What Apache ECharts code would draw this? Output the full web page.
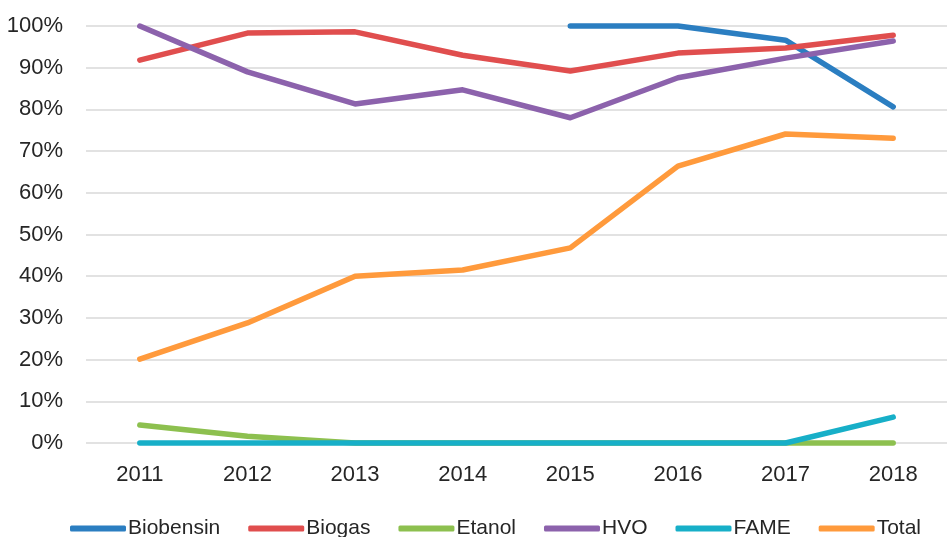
<!DOCTYPE html>
<html>
<head>
<meta charset="utf-8">
<script src="https://cdn.jsdelivr.net/npm/echarts@6/dist/echarts.min.js"></script>
<style>
  html, body { margin: 0; padding: 0; background: #fff; }
  #chart { width: 947px; height: 537px; }
</style>
</head>
<body>
<div id="chart"></div>
<script>
// kategorier og verdier (andel, %)
var years = ['2011', '2012', '2013', '2014', '2015', '2016', '2017', '2018']
var biobensin = [null, null, null, null, 100, 100, 96.6, 80.6]
var biogas = [91.8, 98.3, 98.6, 93.0, 89.2, 93.5, 94.7, 97.8]
var etanol = [4.3, 1.6, 0, 0, 0, 0, 0, 0]
var hvo = [100, 89.0, 81.3, 84.7, 78.0, 87.6, 92.3, 96.4]
var fame = [0, 0, 0, 0, 0, 0, 0, 6.2]
var total = [20.1, 28.8, 40.0, 41.5, 46.8, 66.4, 74.1, 73.1]

var navn = ['Biobensin', 'Biogas', 'Etanol', 'HVO', 'FAME', 'Total']
var farger = ['#2B7EC1', '#E04E4E', '#8DC04F', '#8C62AC', '#17AFC8', '#FF9A3C']
var dataSett = [biobensin, biogas, etanol, hvo, fame, total]

var fonter = '"Liberation Sans", Arial, sans-serif'

var chartDom = document.getElementById('chart')
var myChart = echarts.init(chartDom)

var option = {
  animation: false,
  color: farger,
  grid: {
    left: 86,
    top: 26,
    width: 874,
    height: 417
  },
  legend: {
    data: navn,
    left: 70,
    top: 518,
    padding: 0,
    itemWidth: 56,
    itemHeight: 6,
    itemGap: 28,
    icon: 'roundRect',
    textStyle: {
      fontFamily: fonter,
      fontSize: 21,
      color: '#262626',
      padding: [0, 0, 0, -3]
    }
  },
  xAxis: {
    type: 'category',
    data: years,
    boundaryGap: true,
    axisLine: { show: false },
    axisTick: { show: false },
    axisLabel: {
      margin: 21,
      fontFamily: fonter,
      fontSize: 22,
      color: '#262626'
    }
  },
  yAxis: {
    type: 'value',
    min: 0,
    max: 100,
    interval: 10,
    axisLine: { show: false },
    axisTick: { show: false },
    axisLabel: {
      margin: 23,
      fontFamily: fonter,
      fontSize: 22,
      color: '#262626',
      formatter: '{value}%'
    },
    splitLine: {
      lineStyle: { color: '#D9D9D9', width: 1.5 }
    }
  },
  series: navn.map(function (n, i) {
    return {
      name: n,
      type: 'line',
      data: dataSett[i],
      showSymbol: false,
      symbol: 'none',
      clip: false,
      lineStyle: { width: 5.5, cap: 'round', join: 'round' }
    }
  })
}

option && myChart.setOption(option)
</script>
</body>
</html>
